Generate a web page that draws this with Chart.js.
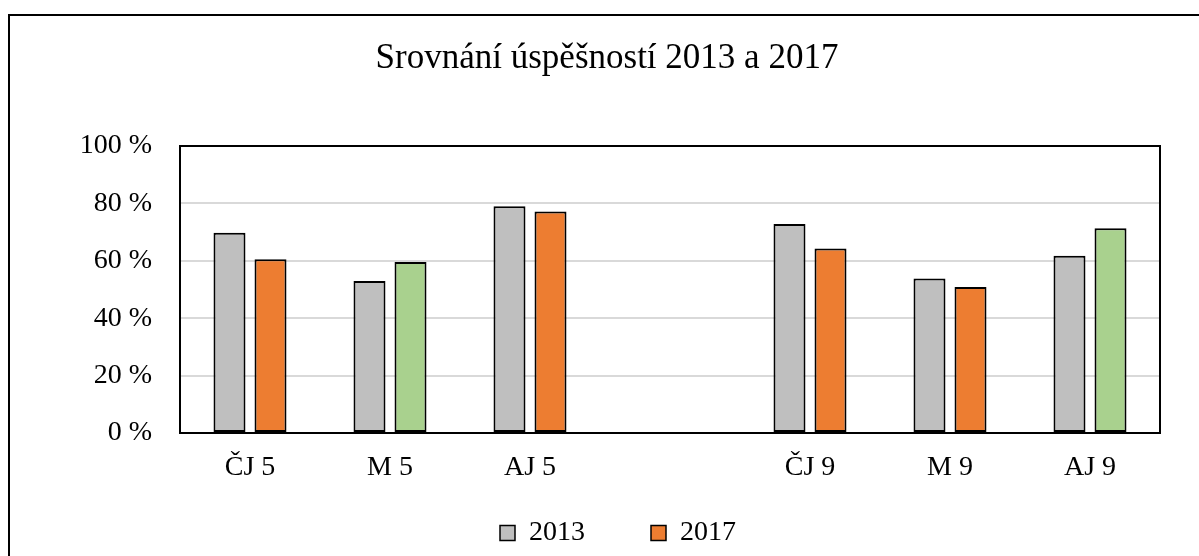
<!DOCTYPE html>
<html>
<head>
<meta charset="utf-8">
<script src="https://cdn.jsdelivr.net/npm/chart.js@4.4.1/dist/chart.umd.min.js"></script>
<style>
html,body{margin:0;padding:0;background:#fff;overflow:hidden;}
#wrap{position:relative;width:1199px;height:556px;}
</style>
</head>
<body>
<div id="wrap"><canvas id="c" width="1199" height="556"></canvas></div>
<script>
const categories = ['ČJ 5', 'M 5', 'AJ 5', '', 'ČJ 9', 'M 9', 'AJ 9'];
const values2013 = [69.8, 53.0, 79.0, null, 72.8, 53.8, 61.8];
const values2017 = [60.5, 59.6, 77.2, null, 64.3, 50.9, 71.3];
const yTicks = [0, 20, 40, 60, 80, 100];
const seriesNames = ['2013', '2017'];

const FONT = "'Liberation Serif', 'Times New Roman', serif";
const GRAY = '#BFBFBF', ORANGE = '#ED7D31', GREEN = '#A9D18E';
const LEGEND_H = 48, LEGEND_ITEM_TOP = 519, LEGEND_SHIFT_X = 11;

const frame = {
  id: 'frame',
  afterInit(chart) {
    const lg = chart.legend;
    if (!lg) return;
    const origFit = lg.fit.bind(lg);
    lg.fit = function () { origFit(); this.height = LEGEND_H; };
    const origDraw = lg._draw.bind(lg);
    lg._draw = function () {
      const t = this.top, l = this.left, r = this.right;
      const pad = this.options.labels.padding;
      this.top = LEGEND_ITEM_TOP - pad;
      this.left = l + LEGEND_SHIFT_X;
      this.right = r + LEGEND_SHIFT_X;
      origDraw();
      this.top = t; this.left = l; this.right = r;
    };
  },
  beforeDraw(chart) {
    const ctx = chart.ctx;
    ctx.save();
    ctx.fillStyle = '#fff';
    ctx.fillRect(0, 0, chart.width, chart.height);
    ctx.strokeStyle = '#000';
    ctx.lineWidth = 2;
    ctx.strokeRect(9, 15, 1400, 800);
    ctx.restore();
  },
  afterDatasetsDraw(chart) {
    const a = chart.chartArea, ctx = chart.ctx;
    ctx.save();
    ctx.strokeStyle = '#000';
    ctx.lineWidth = 2;
    ctx.strokeRect(a.left, a.top, a.right - a.left, a.bottom - a.top);
    ctx.restore();
  }
};

new Chart(document.getElementById('c'), {
  type: 'bar',
  data: {
    labels: categories,
    datasets: [
      {
        label: seriesNames[0],
        data: values2013,
        backgroundColor: GRAY,
        borderColor: '#000',
        borderWidth: 2,
        borderSkipped: false
      },
      {
        label: seriesNames[1],
        data: values2017,
        backgroundColor: (c) => {
          const i = c.dataIndex;
          if (i === undefined) return ORANGE;
          return values2017[i] > values2013[i] ? GREEN : ORANGE;
        },
        borderColor: '#000',
        borderWidth: 2,
        borderSkipped: false
      }
    ]
  },
  options: {
    responsive: false,
    animation: false,
    devicePixelRatio: 1,
    categoryPercentage: 0.586,
    barPercentage: 0.78,
    layout: { padding: { left: 15, right: 0, top: 0, bottom: 0 } },
    plugins: {
      title: {
        display: true,
        text: 'Srovnání úspěšností 2013 a 2017',
        color: '#000',
        font: { family: FONT, size: 35, weight: 'normal' },
        padding: { top: 38, bottom: 66 }
      },
      legend: {
        position: 'bottom',
        labels: {
          color: '#000',
          font: { family: FONT, size: 28 },
          boxWidth: 15,
          boxHeight: 15,
          padding: 66,
          generateLabels: (chart) => seriesNames.map((n, i) => ({
            text: n,
            fillStyle: i === 0 ? GRAY : ORANGE,
            strokeStyle: '#000',
            lineWidth: 1.5,
            datasetIndex: i,
            fontColor: '#000'
          }))
        }
      },
      tooltip: { enabled: false }
    },
    scales: {
      x: {
        grid: { display: false, drawTicks: false },
        border: { display: false },
        ticks: { color: '#000', font: { family: FONT, size: 28 }, padding: 18, maxRotation: 0 },
        afterFit: (s) => { s.height = 75; }
      },
      y: {
        min: 0, max: 100,
        afterBuildTicks: (s) => { s.ticks = yTicks.map(v => ({ value: v })); },
        grid: { color: '#D9D9D9', lineWidth: 2, drawTicks: false },
        border: { display: false },
        ticks: { color: '#000', font: { family: FONT, size: 28 }, padding: 28, callback: (v) => v + ' %' },
        afterFit: (s) => { s.width = 165; }
      },
      y2: {
        position: 'right',
        display: true,
        grid: { drawOnChartArea: false, drawTicks: false },
        border: { display: false },
        ticks: { display: false },
        afterFit: (s) => { s.width = 39; }
      }
    }
  },
  plugins: [frame]
});
</script>
</body>
</html>
